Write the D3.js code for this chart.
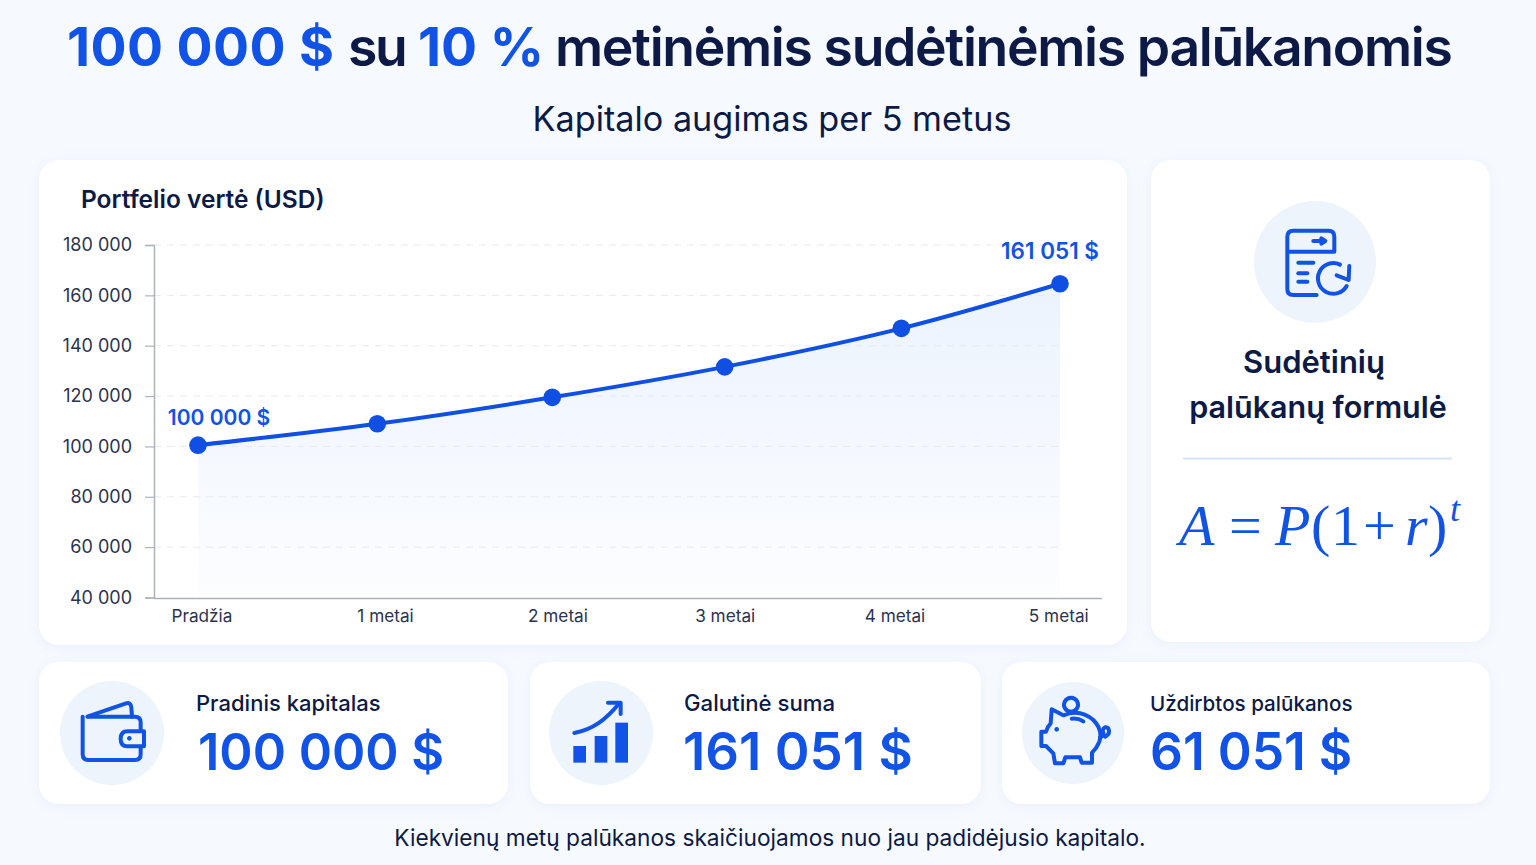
<!DOCTYPE html>
<html>
<head>
<meta charset="utf-8">
<title>Sudėtinės palūkanos</title>
<script src="https://cdn.jsdelivr.net/npm/d3@7"></script>
<style>
  html, body { margin: 0; padding: 0; background: #f6f9fe; }
  svg { display: block; }
  text { font-family: Inter, "Noto Sans", sans-serif; }
</style>
</head>
<body>
<div id="chart"></div>
<script>
// values (the dots do not sit exactly on the labelled amounts)
var years = [0, 1.04, 2.055, 3.055, 4.08, 5];
var values = [100500, 109000, 119500, 131600, 146900, 164600];
var yTicks = [40000, 60000, 80000, 100000, 120000, 140000, 160000, 180000];
var xLabels = ['Pradžia', '1 metai', '2 metai', '3 metai', '4 metai', '5 metai'];
var xLabelYears = [0.02, 1.085, 2.085, 3.055, 4.04, 4.99];

var summaryLabels = ['Pradinis kapitalas', 'Galutinė suma', 'Uždirbtos palūkanos'];
var summaryValues = ['100 000 $', '161 051 $', '61 051 $'];

var BLUE = '#1053e6', LINE = '#0f4fe4', DARK = '#0c1a45';

var svg = d3.select('#chart').append('svg').attr('width', 1536).attr('height', 865);
var defs = svg.append('defs');

var shadow = defs.append('filter').attr('id', 'soft')
  .attr('x', '-5%').attr('y', '-10%').attr('width', '110%').attr('height', '120%');
shadow.append('feDropShadow').attr('dx', 0).attr('dy', 2).attr('stdDeviation', 6)
  .attr('flood-color', '#a9c3ec').attr('flood-opacity', 0.16);

var grad = defs.append('linearGradient').attr('id', 'areaFill')
  .attr('x1', 0).attr('y1', 0).attr('x2', 0).attr('y2', 1);
grad.append('stop').attr('offset', '0%').attr('stop-color', '#ecf3fd');
grad.append('stop').attr('offset', '100%').attr('stop-color', '#fcfdff');

function fmt(v) {
  return d3.format(',')(v).replace(/,/g, ' ');
}

function card(x, y, w, h) {
  svg.append('rect').attr('x', x).attr('y', y).attr('width', w).attr('height', h)
    .attr('rx', 20).attr('fill', '#fff').attr('filter', 'url(#soft)');
}

function label(x, y, txt, size, weight, color, anchor) {
  return svg.append('text').attr('x', x).attr('y', y).text(txt)
    .attr('font-size', size).attr('font-weight', weight).attr('fill', color)
    .attr('text-anchor', anchor || 'start');
}

// header, each coloured run placed on its own so the widths follow the reference
var title = svg.append('text').attr('y', 66).attr('font-size', 53.5).attr('font-weight', 700).attr('fill', DARK);
title.append('tspan').attr('x', 67).attr('fill', BLUE).attr('letter-spacing', 0.4).text('100 000 $');
title.append('tspan').attr('x', 348).attr('font-weight', 600).attr('letter-spacing', -2.5).text('su');
title.append('tspan').attr('x', 418).attr('fill', BLUE).text('10 %');
title.append('tspan').attr('x', 555).attr('font-weight', 600).attr('letter-spacing', -1.35)
  .text('metinėmis sudėtinėmis palūkanomis');

label(772, 131, 'Kapitalo augimas per 5 metus', 34.2, 400, DARK, 'middle');

card(39, 160, 1088, 485);
card(1151, 160, 339, 482);
card(39, 662, 469, 142);
card(530, 662, 451, 142);
card(1002, 662, 488, 142);

// line chart
var x = d3.scaleLinear().domain([0, 5]).range([198, 1060]);
var y = d3.scaleLinear().domain([40000, 180000]).range([597.5, 245]);

label(81, 208, 'Portfelio vertė (USD)', 24.5, 600, DARK);

var grid = svg.append('g');
grid.selectAll('line').data(yTicks.slice(1)).enter().append('line')
  .attr('x1', 154).attr('x2', 1064)
  .attr('y1', function(d) { return y(d); })
  .attr('y2', function(d) { return y(d); })
  .attr('stroke', '#e7eaf0').attr('stroke-width', 1).attr('stroke-dasharray', '7 6');

var area = d3.area().curve(d3.curveMonotoneX)
  .x(function(d, i) { return x(years[i]); })
  .y0(y(40000))
  .y1(function(d) { return y(d); });
svg.append('path').datum(values).attr('d', area).attr('fill', 'url(#areaFill)');

// redraw grid over the area, the dashes show through it
svg.node().appendChild(grid.node());

var yAxis = d3.axisLeft(y).tickValues(yTicks).tickSize(9).tickPadding(13).tickFormat(fmt);
var gy = svg.append('g').attr('transform', 'translate(154,0)').call(yAxis);
gy.select('.domain').attr('stroke', '#aeb2bb').attr('stroke-width', 1.5);
gy.selectAll('.tick line').attr('stroke', '#aeb2bb').attr('stroke-width', 1.2);
gy.selectAll('.tick text').attr('font-size', 18).attr('font-family', 'Inter').attr('fill', '#2b3350');

var xAxis = d3.axisBottom(x).tickValues(xLabelYears).tickSize(0).tickPadding(12)
  .tickFormat(function(d, i) { return xLabels[i]; });
var gx = svg.append('g').attr('transform', 'translate(0,598)').call(xAxis);
gx.select('.domain').attr('d', 'M154,0.5H1102').attr('stroke', '#aeb2bb').attr('stroke-width', 1.5);
gx.selectAll('.tick text').attr('font-size', 17.2).attr('font-family', 'Inter').attr('fill', '#2b3350');

var line = d3.line().curve(d3.curveMonotoneX)
  .x(function(d, i) { return x(years[i]); })
  .y(function(d) { return y(d); });
svg.append('path').datum(values).attr('d', line)
  .attr('fill', 'none').attr('stroke', LINE).attr('stroke-width', 4);

svg.append('g').selectAll('circle').data(values).enter().append('circle')
  .attr('cx', function(d, i) { return x(years[i]); })
  .attr('cy', function(d) { return y(d); })
  .attr('r', 8.8).attr('fill', LINE);

label(219, 425, summaryValues[0], 21, 600, BLUE, 'middle');
label(1050, 259, summaryValues[1], 22.5, 600, BLUE, 'middle');

// formula card
svg.append('circle').attr('cx', 1315).attr('cy', 262).attr('r', 61).attr('fill', '#edf4fc');
label(1314, 373, 'Sudėtinių', 31, 600, DARK, 'middle');
label(1318, 418, 'palūkanų formulė', 30.5, 600, DARK, 'middle');
svg.append('line').attr('x1', 1183).attr('x2', 1452).attr('y1', 458.5).attr('y2', 458.5)
  .attr('stroke', '#d3e5f8').attr('stroke-width', 2);

var formula = svg.append('text').attr('y', 545).attr('font-size', 58).attr('fill', BLUE)
  .style('font-family', '"Liberation Serif", serif');
formula.append('tspan').attr('x', 1179).attr('font-style', 'italic').text('A');
formula.append('tspan').attr('x', 1229).text('=');
formula.append('tspan').attr('x', 1275).attr('font-style', 'italic').text('P');
formula.append('tspan').attr('x', 1311).text('(');
formula.append('tspan').attr('x', 1331).text('1');
formula.append('tspan').attr('x', 1363).text('+');
formula.append('tspan').attr('x', 1405).attr('font-style', 'italic').text('r');
formula.append('tspan').attr('x', 1428).text(')');
formula.append('tspan').attr('x', 1450).attr('font-style', 'italic').attr('font-size', 36).attr('dy', -24).text('t');

// summary cards
var cardCircles = [[112, 733, 52], [601, 733, 52], [1073, 733, 51]];
var cardLabelX = [196, 684, 1150];
var cardValueX = [198, 683, 1150];
var cardLabelSize = [22, 22.2, 20.6];
var cardValueSize = [50.5, 52.8, 51.5];
summaryLabels.forEach(function(d, i) {
  svg.append('circle').attr('cx', cardCircles[i][0]).attr('cy', cardCircles[i][1])
    .attr('r', cardCircles[i][2]).attr('fill', '#edf4fc');
  label(cardLabelX[i], 711, d, cardLabelSize[i], 500, DARK);
  label(cardValueX[i], 770, summaryValues[i], cardValueSize[i], 600, BLUE);
});

// icons at 3x so they are given in crop coordinates
function icon(ox, oy, parts) {
  var g = svg.append('g').attr('transform', 'translate(' + ox + ',' + oy + ') scale(0.3333)')
    .attr('fill', 'none').attr('stroke', BLUE).attr('stroke-width', 12)
    .attr('stroke-linecap', 'round').attr('stroke-linejoin', 'round');
  parts.forEach(function(p) {
    var el = g.append('path').attr('d', p.d);
    if (p.fill) el.attr('fill', p.fill).attr('stroke', p.stroke || 'none');
  });
}

icon(40, 660, [
  { d: 'M142,170 L258,130 Q272,126 274,142 L276,170' },
  { d: 'M145,170 H285 Q302,170 302,187 V283 Q302,300 285,300 H145 Q128,300 128,283 V170' },
  { d: 'M312,214 H262 Q242,214 242,237 Q242,259 262,259 H312 Z', fill: '#edf4fc', stroke: BLUE },
  { d: 'M268,228 a7,7 0 1,0 0.1,0 Z', fill: BLUE }
]);

icon(530, 660, [
  { d: 'M130,258 H168 V308 H130 Z', fill: BLUE },
  { d: 'M194,228 H232 V308 H194 Z', fill: BLUE },
  { d: 'M256,188 H294 V308 H256 Z', fill: BLUE },
  { d: 'M133,219 C190,208 228,178 266,132' },
  { d: 'M234,128 H272 V162' }
]);

icon(1000, 660, [
  { d: 'M213,113 a21,21 0 1,0 0.1,0 Z' },
  { d: 'M190,166 Q240,145 280,180 Q310,210 298,245 Q290,265 276,278 V308 H245 L240,292 H196 L190,310 H165 L160,280 Q145,265 138,258 H124 V215 H138 Q142,200 152,190 L155,148 Z' },
  { d: 'M316,230 Q332,222 325,205 Q312,196 308,212 Q315,226 300,232' },
  { d: 'M215,176 Q235,174 250,184' },
  { d: 'M170,201 a7,7 0 1,0 0.1,0 Z', fill: BLUE }
]);

icon(1150, 180, [
  { d: 'M500,345 H430 Q412,345 412,327 V170 Q412,152 430,152 H535 Q553,152 553,170 V215 H412' },
  { d: 'M490,183 H522' },
  { d: 'M514,175 L526,183 L514,191', fill: BLUE, stroke: BLUE },
  { d: 'M445,248 H490' },
  { d: 'M445,280 H472' },
  { d: 'M445,305 H472' },
  { d: 'M590,318 A46,46 0 1,1 570,254' },
  { d: 'M598,258 L596,300 L560,286' }
]);

// footer
label(770, 846, 'Kiekvienų metų palūkanos skaičiuojamos nuo jau padidėjusio kapitalo.', 22.7, 400, DARK, 'middle');
</script>
</body>
</html>
